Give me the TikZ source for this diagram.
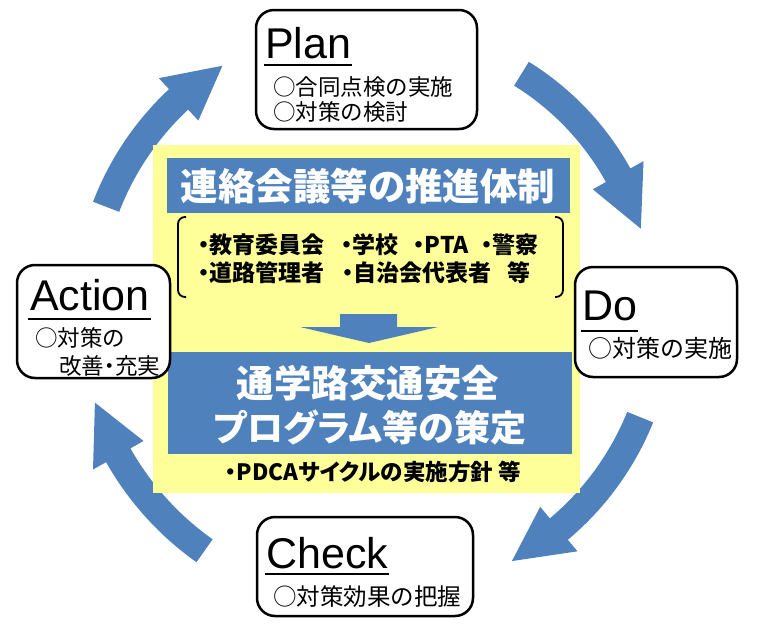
\documentclass[tikz,border=0pt]{standalone}
\usepackage{fontspec}
\setmainfont{Liberation Sans}
\newfontfamily\jp{Noto Sans CJK JP}
\newfontfamily\jpp[RawFeature=+palt]{Noto Sans CJK JP}
\usetikzlibrary{calc}
\definecolor{cblue}{HTML}{4F81BD}
\definecolor{cyellow}{HTML}{FFFF99}
\newcommand\cycarrow[4]{%
  \fill[cblue] ($(C)+(#1:{#4+14})$) arc[start angle=#1,end angle=#2,radius={#4+14}]
    -- ($(C)+(#2:{#4+29})$) -- ($(C)+(#3:#4)$) -- ($(C)+(#2:{#4-29})$)
    -- ($(C)+(#2:{#4-14})$) arc[start angle=#2,end angle=#1,radius={#4-14}] -- cycle;}
\begin{document}
\begin{tikzpicture}[x=1pt,y=1pt,
  box/.style={draw=black,line width=2.5pt,rounded corners=18pt,fill=white,inner sep=0pt},
  head/.style={inner sep=0pt,anchor=base west,font=\fontsize{43}{50}\selectfont},
  sub/.style={inner sep=0pt,anchor=west,font=\jp\fontsize{22.5}{26}\selectfont},
  item/.style={inner sep=0pt,anchor=west,font=\jpp\bfseries\fontsize{23}{27}\selectfont},
  ttl/.style={inner sep=0pt,text=white,font=\jpp\bfseries\fontsize{37.5}{44}\selectfont},
  ul/.style={line width=2pt},
  brk/.style={line width=1.8pt,rounded corners=7pt}]
\useasboundingbox (0,0) rectangle (764,-624);
\coordinate (C) at (375,-310);
% cycle arrows
\cycarrow{159}{133}{122}{288}
\cycarrow{58.2}{29}{17}{278}
\cycarrow{-22}{-50}{-61.4}{286}
\cycarrow{-125.3}{-150.5}{-161.7}{295}
% central panel
\fill[cyellow] (153,-145) rectangle (580,-493);
\fill[cblue] (167,-158) rectangle (570,-213);
\node[ttl] (t1) at (368,-186) {連絡会議等の推進体制};
\draw[brk] (186,-217) -- (178,-217) -- (178,-297) -- (186,-297);
\draw[brk] (555,-217) -- (563,-217) -- (563,-297) -- (555,-297);
\node[item] (i1) at (198,-245) {・教育委員会};
\node[item] (i2) at (341,-245) {・学校};
\node[item] (i3) at (413,-245) {・PTA};
\node[item] (i4) at (481,-245) {・警察};
\node[item] (i5) at (198,-273) {・道路管理者};
\node[item] (i6) at (342,-273) {・自治会代表者};
\node[item] (i7) at (507,-273) {等};
\fill[cblue] (340,-314) -- (397,-314) -- (397,-327) -- (438,-327) -- (369,-343) -- (300,-327) -- (340,-327) -- cycle;
\fill[cblue] (168,-352) rectangle (572,-454);
\node[ttl] (t2) at (368,-383) {通学路交通安全};
\node[ttl,font=\jpp\bfseries\fontsize{36}{44}\selectfont] (t3) at (370,-428) {プログラム等の策定};
\node[item,anchor=center,font=\jpp\bfseries\fontsize{22.5}{27}\selectfont] (pdca) at (373,-472) {・PDCAサイクルの実施方針 等};
% PDCA boxes
\node[box,minimum width=221,minimum height=119] (planbox) at (366.5,-69.5) {};
\node[box,minimum width=162,minimum height=110] (dobox) at (656,-322) {};
\node[box,minimum width=216,minimum height=99] (checkbox) at (365,-566.5) {};
\node[box,minimum width=153,minimum height=113] (actbox) at (93.5,-321.5) {};
% Plan
\node[head] (plan) at (265,-58) {Plan};
\draw[ul] ([xshift=-1,yshift=-7]plan.base west) -- ([xshift=1,yshift=-7]plan.base east);
\node[sub] (p1) at (273,-87) {○合同点検の実施};
\node[sub] (p2) at (273,-112) {○対策の検討};
% Do
\node[head] (do) at (582,-320) {Do};
\draw[ul] ([xshift=-1,yshift=-11]do.base west) -- ([xshift=1,yshift=-11]do.base east);
\node[sub,font=\jp\fontsize{24}{27}\selectfont] (d1) at (588,-348) {○対策の実施};
% Check
\node[head] (check) at (266,-568) {Check};
\draw[ul] ([xshift=-1,yshift=-6]check.base west) -- ([xshift=1,yshift=-6]check.base east);
\node[sub,font=\jp\fontsize{23.5}{27}\selectfont] (c1) at (273,-597) {○対策効果の把握};
% Action
\node[head] (action) at (30,-310) {Action};
\draw[ul] ([xshift=-2,yshift=-9]action.base west) -- ([xshift=1,yshift=-9]action.base east);
\node[sub] (a1) at (35,-338) {○対策の};
\node[sub,font=\jpp\fontsize{22.5}{26}\selectfont] (a2) at (59,-366) {改善・充実};
\end{tikzpicture}
\end{document}
